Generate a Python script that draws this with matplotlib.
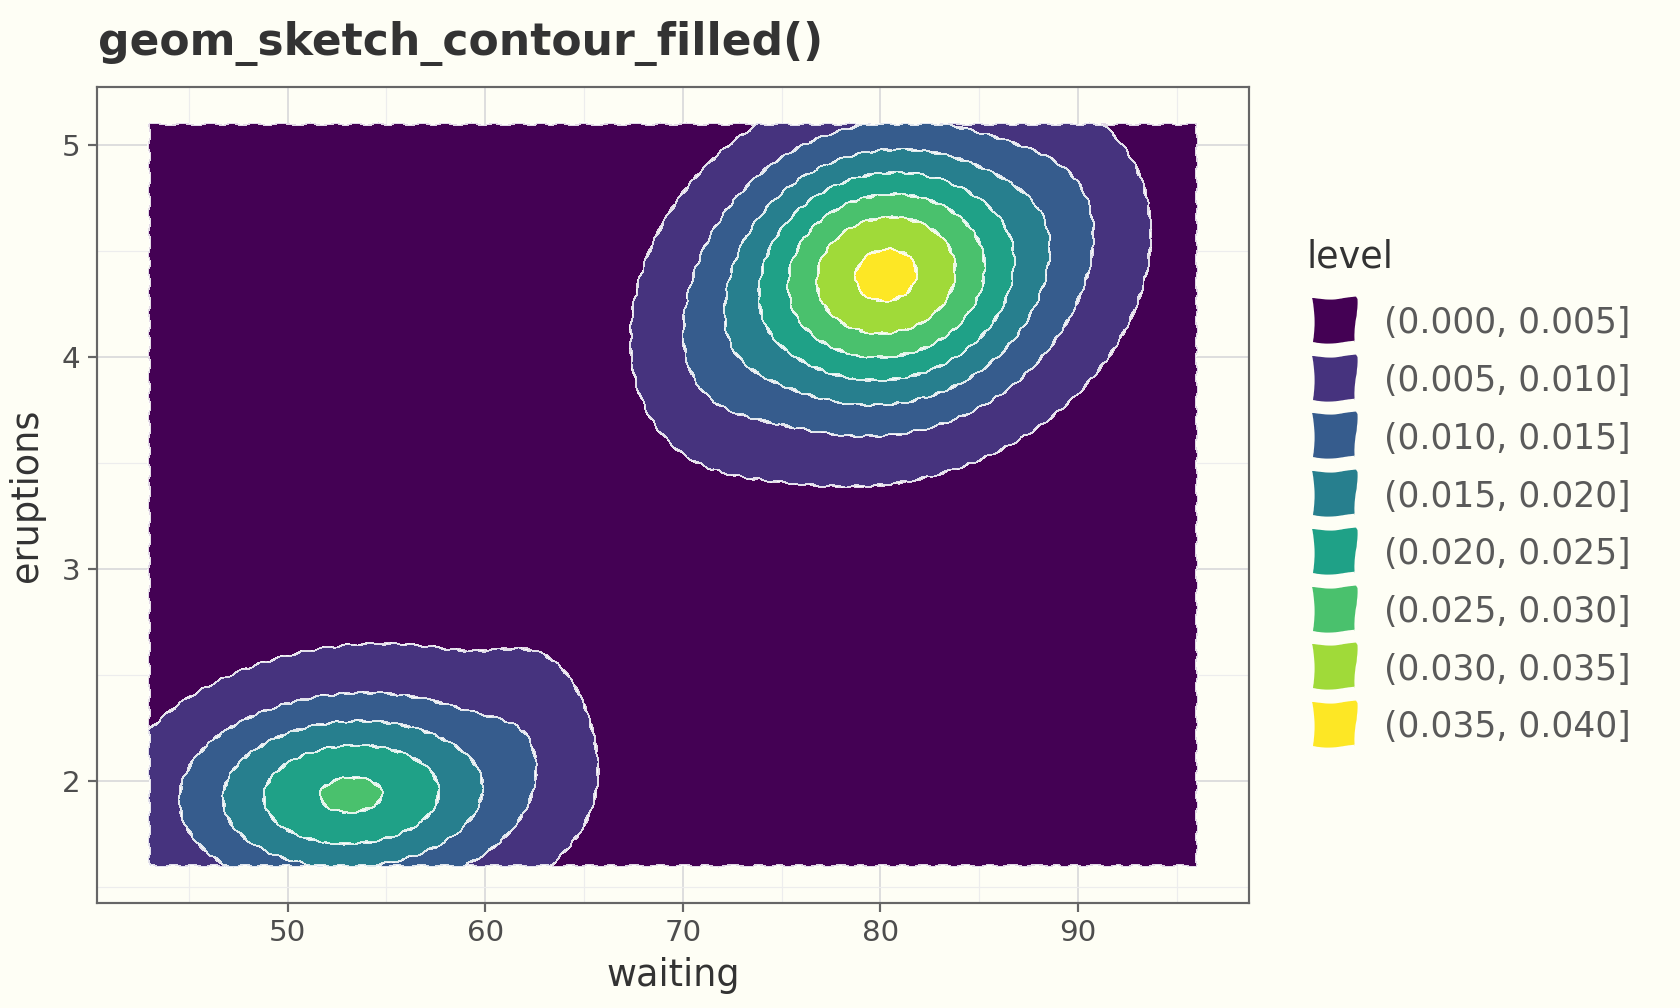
import matplotlib.pyplot as plt
import numpy as np
from matplotlib.patches import Rectangle

# density blobs: centre, spread, tilt and height
blob_waiting = [80.2, 80.8, 71.5, 89.5, 53.1, 54.0, 62.5]
blob_eruptions = [4.40, 4.30, 3.95, 4.75, 1.93, 2.00, 2.35]
blob_sd_waiting = [5.0, 9.5, 2.5, 2.5, 5.5, 9.5, 1.8]
blob_sd_eruptions = [0.40, 0.68, 0.30, 0.30, 0.28, 0.62, 0.25]
blob_tilt = [0.05, 0.25, 0.0, 0.0, 0.05, 0.10, 0.0]
blob_height = [0.0270, 0.0095, 0.0030, 0.0025, 0.0185, 0.0074, 0.0022]

waiting_range = [43, 96]
eruptions_range = [1.6, 5.1]

levels = [0.000, 0.005, 0.010, 0.015, 0.020, 0.025, 0.030, 0.035, 0.040]
level_labels = ['(0.000, 0.005]', '(0.005, 0.010]', '(0.010, 0.015]', '(0.015, 0.020]',
                '(0.020, 0.025]', '(0.025, 0.030]', '(0.030, 0.035]', '(0.035, 0.040]']
level_colors = ['#440154', '#46337E', '#365C8D', '#277F8E',
                '#1FA187', '#4AC16D', '#A0DA39', '#FDE725']

x_ticks = [50, 60, 70, 80, 90]
y_ticks = [2, 3, 4, 5]
x_minor = [45, 55, 65, 75, 85, 95]
y_minor = [1.5, 2.5, 3.5, 4.5]

BG = '#FEFEF5'


def density(gx, gy):
    z = np.zeros_like(gx)
    for mx, my, sx, sy, r, h in zip(blob_waiting, blob_eruptions, blob_sd_waiting,
                                    blob_sd_eruptions, blob_tilt, blob_height):
        dx = (gx - mx) / sx
        dy = (gy - my) / sy
        q = (dx**2 - 2 * r * dx * dy + dy**2) / (1 - r**2)
        z += h * np.exp(-q / 2)
    return z


gx, gy = np.meshgrid(np.linspace(waiting_range[0], waiting_range[1], 220),
                     np.linspace(eruptions_range[0], eruptions_range[1], 220))
gz = density(gx, gy)

fig = plt.figure(figsize=(7, 4.2), dpi=240, facecolor=BG)
ax = fig.add_axes([97 / 1680, 1 - 903 / 1008, (1249 - 97) / 1680, (903 - 87) / 1008])
ax.set_facecolor(BG)

cs = ax.contourf(gx, gy, gz, levels=levels, colors=level_colors, zorder=2)
cs.set_edgecolor((1, 1, 1, 0.85))
cs.set_linewidth(0.22)
cs.set_sketch_params(scale=1.1, length=22, randomness=2.5)

ax.set_xlim(40.35, 98.65)
ax.set_ylim(1.425, 5.275)
ax.set_xticks(x_ticks)
ax.set_yticks(y_ticks)
ax.set_xticks(x_minor, minor=True)
ax.set_yticks(y_minor, minor=True)
ax.grid(which='major', color='#DEDEDE', lw=0.6, zorder=0)
ax.grid(which='minor', color='#EDEDED', lw=0.35, zorder=0)
ax.set_axisbelow(True)
for s in ax.spines.values():
    s.set_color('#666666')
    s.set_linewidth(0.65)
ax.tick_params(which='major', length=2.7, width=0.65, color='#666666',
               labelsize=8.8, labelcolor='#4D4D4D', pad=2.2)
ax.tick_params(which='minor', length=0)
ax.set_xlabel('waiting', fontsize=11, color='#333333', labelpad=3)
ax.set_ylabel('eruptions', fontsize=11, color='#333333', labelpad=5)

fig.text(98 / 1680, 1 - 55 / 1008, 'geom_sketch_contour_filled()', fontsize=13.2,
         fontweight='bold', color='#333333', ha='left', va='baseline')

# legend drawn in pixel coordinates
lax = fig.add_axes([0, 0, 1, 1])
lax.set_xlim(0, 1680)
lax.set_ylim(1008, 0)
lax.axis('off')
lax.text(1307, 268, 'level', fontsize=11, color='#333333', ha='left', va='baseline')
for i, (lab, col) in enumerate(zip(level_labels, level_colors)):
    cy = 320 + i * 57.7
    key = Rectangle((1313, cy - 22), 43, 44, facecolor=col, edgecolor='none')
    key.set_sketch_params(scale=1.6, length=70, randomness=2)
    lax.add_patch(key)
    lax.text(1384, cy, lab, fontsize=10.4, color='#5A5A5A', ha='left', va='center_baseline')

fig.savefig('out.png', dpi=240, facecolor=BG)
